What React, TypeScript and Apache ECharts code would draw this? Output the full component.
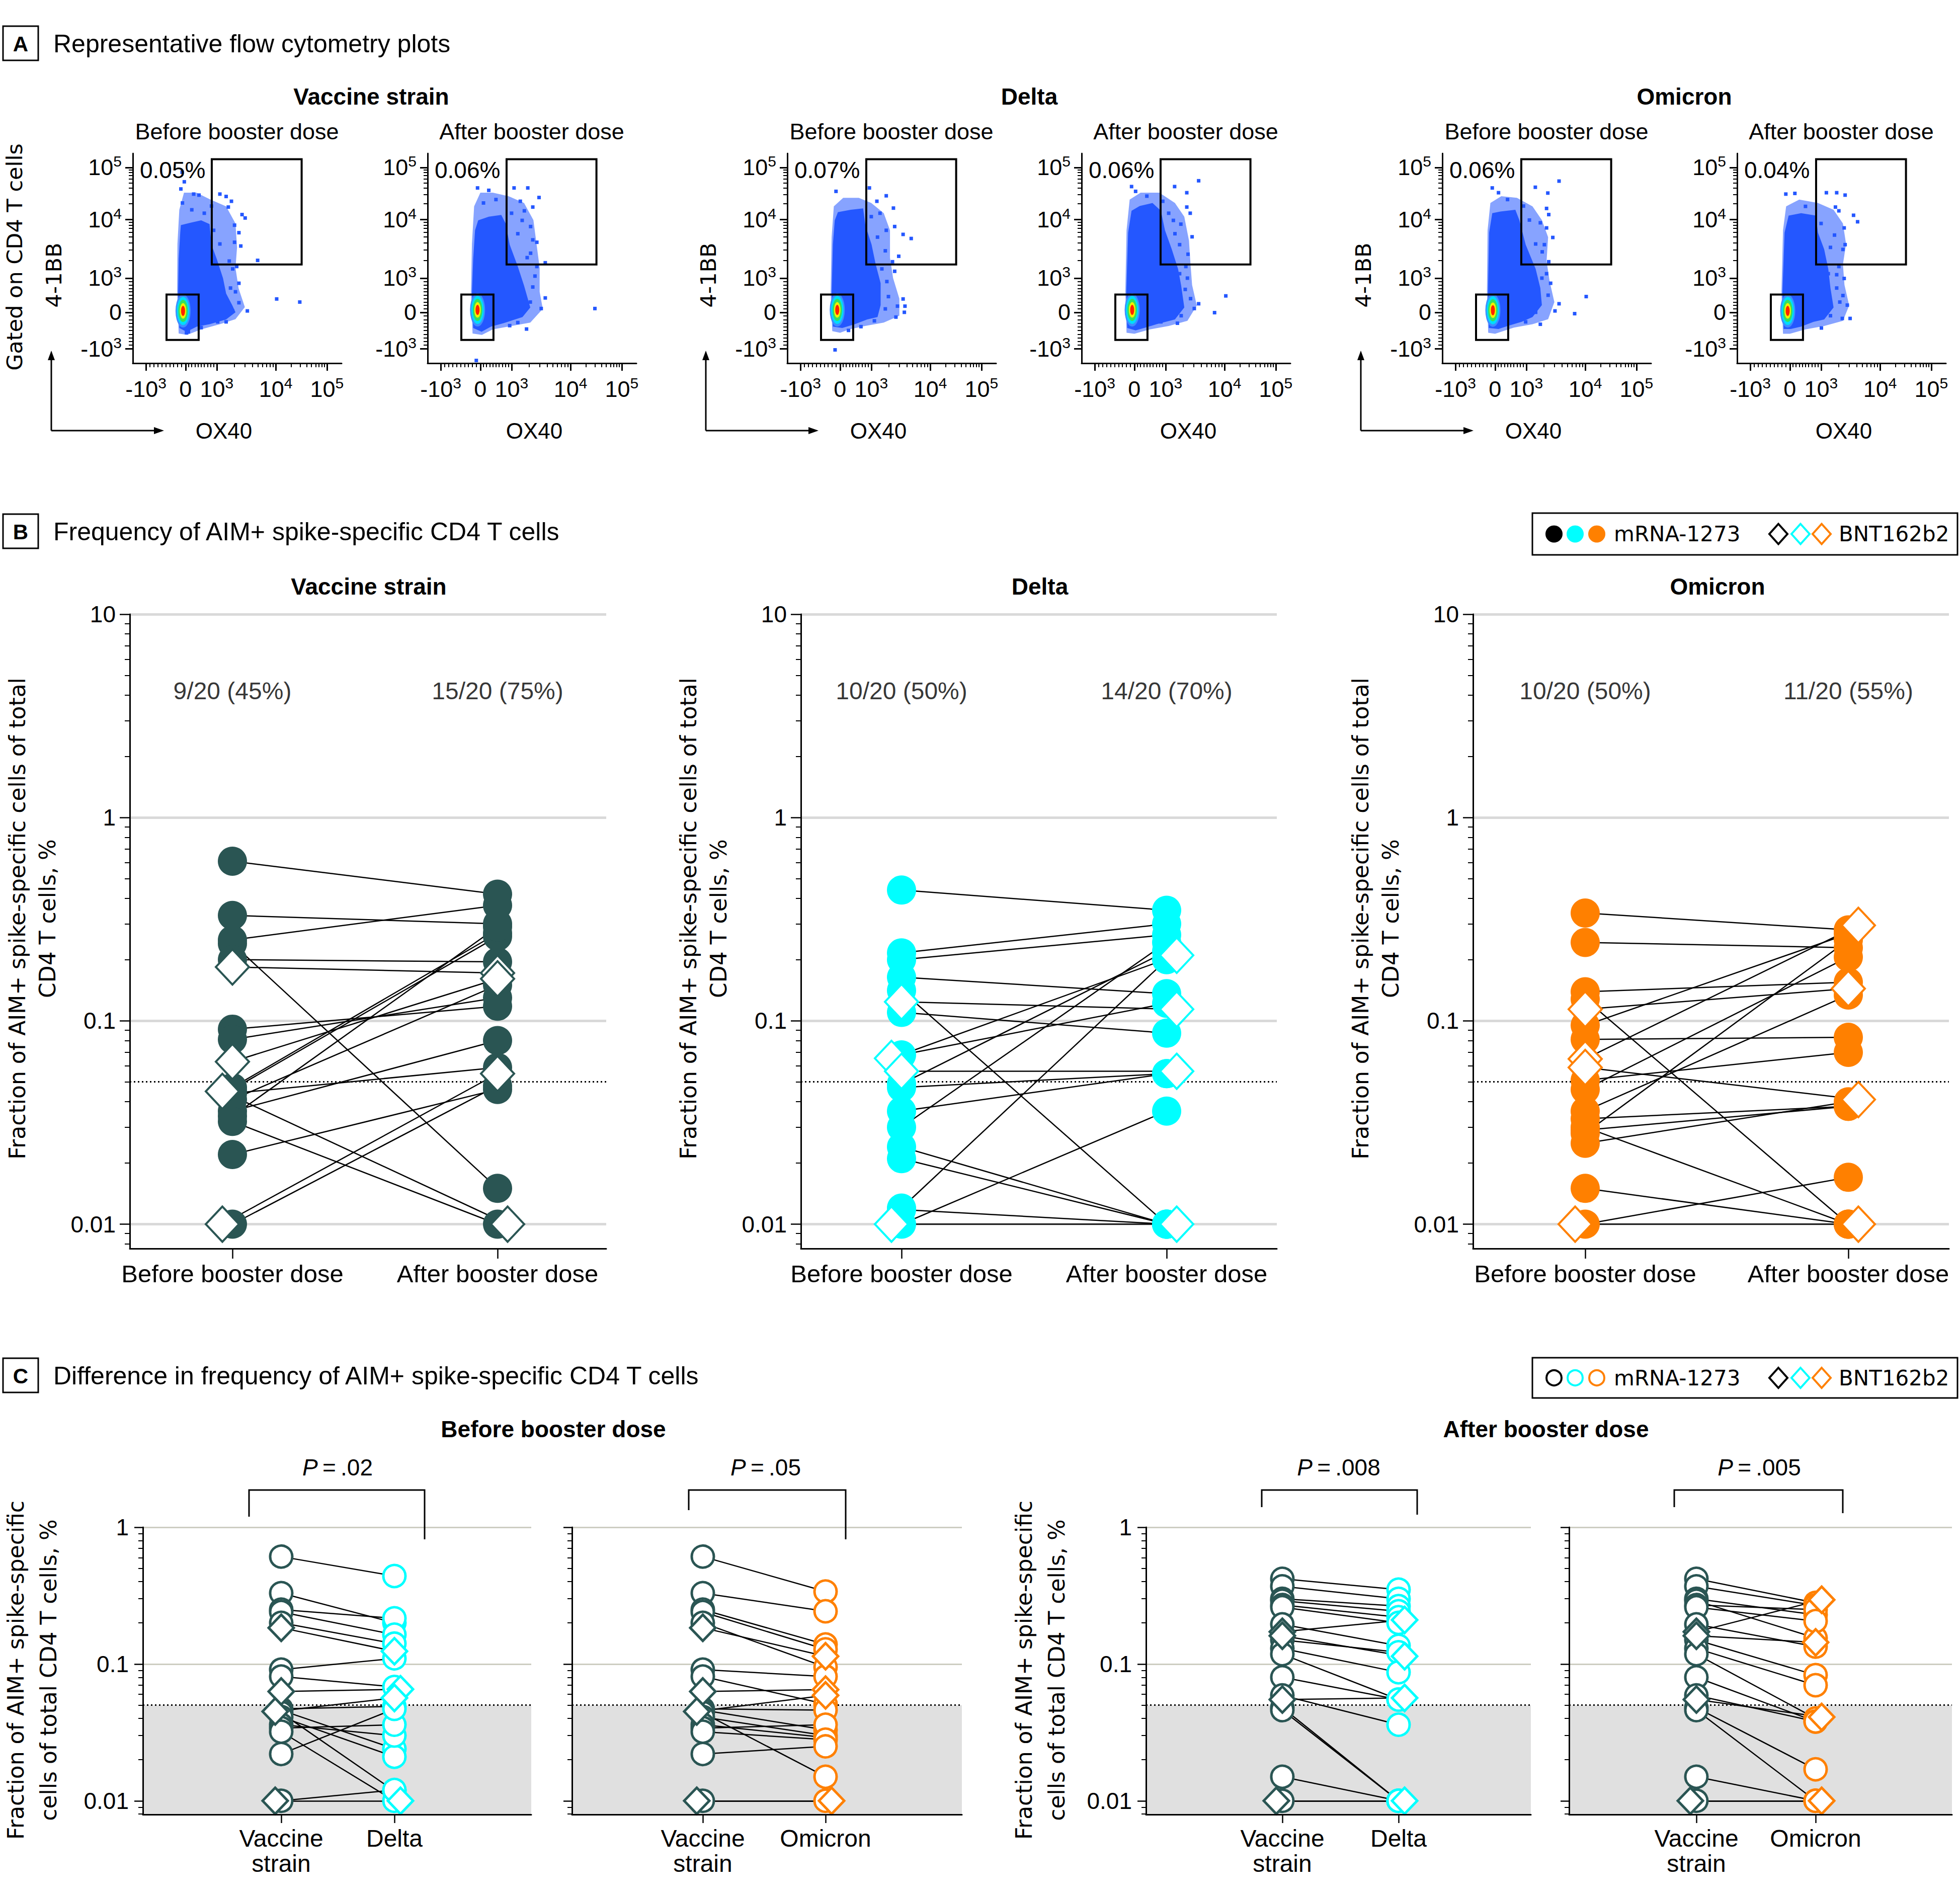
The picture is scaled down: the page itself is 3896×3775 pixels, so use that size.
import React, { useEffect, useRef } from "react";
import * as echarts from "echarts";

const W = 3896;
const H = 3775;
const FONT = "'Liberation Sans', Arial, Helvetica, sans-serif";
const FONT_WIDE = "'DejaVu Sans', Verdana, sans-serif";
const TEAL = "#2a5553";
const CYAN = "#00ffff";
const ORANGE = "#ff8000";
const FLOW_BLUE = "#2457ff";
const FLOW_HALO = "rgba(36,87,255,0.55)";

// ================= Panel A: flow cytometry (channel units of the biexponential display, 10^3 = 1) =================
const FLOW_TICK_VALUES = [-1000, 0, 1000, 10000, 100000];
const FLOW_X_ANCHORS = [-1.27, 0, 1, 2.89, 4.53];
const FLOW_Y_ANCHORS = [-1.07, 0, 1, 2.72, 4.24];
const FLOW_X_RANGE = [-1.69, 5.0];
const FLOW_Y_RANGE = [-1.49, 4.65];
const FLOW_STRAINS = ["Vaccine strain", "Delta", "Omicron"];
const FLOW_TIMES = ["Before booster dose", "After booster dose"];
const FLOW_PERCENT = ["0.05%", "0.06%", "0.07%", "0.06%", "0.06%", "0.04%"];
const GATE_AIM = [[0.84, 1.4], [3.72, 4.48]];
const GATE_NEG = [[-0.61, -0.81], [0.42, 0.52]];
const FLOW_CORES = [[-0.08, 0.04], [-0.09, 0.07], [-0.09, 0.07], [-0.07, 0.07], [-0.07, 0.06], [-0.07, 0.04]];

// dense population outline
const A1_CLOUD = [[-0.2, -0.46], [-0.24, 0.57], [-0.22, 1.56], [-0.17, 2.33], [-0.15, 2.55], [0.16, 2.62], [0.5, 2.69], [0.77, 2.58], [0.83, 1.98], [1.0, 1.56], [1.2, 1.0], [1.3, 0.55], [1.5, 0.2], [1.6, 0.0], [1.3, -0.21], [0.77, -0.35], [0.36, -0.42], [0.03, -0.57]];
const A2_CLOUD = [[-0.23, -0.46], [-0.27, 0.57], [-0.23, 1.56], [-0.17, 2.4], [-0.07, 2.69], [0.27, 2.8], [0.67, 2.85], [0.81, 2.6], [0.94, 1.98], [1.2, 1.34], [1.4, 0.78], [1.6, 0.14], [1.35, -0.14], [0.74, -0.32], [0.34, -0.42], [0.04, -0.57]];
const A3_CLOUD = [[-0.23, -0.42], [-0.27, 0.57], [-0.23, 1.98], [-0.17, 2.69], [-0.07, 2.93], [0.34, 3.0], [0.74, 3.04], [0.81, 2.55], [1.01, 1.98], [1.14, 1.41], [1.3, 0.85], [1.3, 0.21], [1.2, -0.14], [0.87, -0.21], [0.47, -0.35], [0.07, -0.46]];
const A4_CLOUD = [[-0.23, -0.46], [-0.26, 0.57], [-0.2, 2.33], [-0.09, 2.97], [0.17, 3.11], [0.58, 3.2], [0.85, 2.97], [0.98, 2.4], [1.2, 1.84], [1.4, 1.27], [1.5, 0.78], [1.6, 0.14], [1.3, -0.21], [0.71, -0.35], [0.31, -0.46], [0.04, -0.53]];
const A5_CLOUD = [[-0.2, -0.46], [-0.23, 0.57], [-0.19, 2.33], [-0.09, 2.9], [0.17, 2.95], [0.65, 3.0], [0.78, 2.69], [0.98, 1.98], [1.3, 1.27], [1.45, 0.71], [1.5, 0.21], [1.2, -0.14], [0.85, -0.28], [0.44, -0.39], [0.11, -0.49]];
const A6_CLOUD = [[-0.2, -0.49], [-0.24, 0.57], [-0.17, 2.33], [-0.04, 2.83], [0.36, 2.9], [0.83, 2.83], [0.9, 2.33], [1.1, 1.84], [1.23, 1.27], [1.3, 0.71], [1.4, 0.14], [1.1, -0.21], [0.76, -0.28], [0.36, -0.42], [0.03, -0.49]];
// sparse (speckled) population outline
const A1_HALO = [[-0.22, -0.62], [-0.27, 0.6], [-0.26, 2.0], [-0.2, 3.0], [-0.05, 3.5], [0.35, 3.5], [0.8, 3.3], [1.3, 3.1], [1.6, 2.6], [1.65, 1.9], [1.6, 1.3], [1.7, 0.7], [1.9, 0.15], [1.6, -0.2], [1.1, -0.35], [0.5, -0.5], [0.05, -0.66]];
const A2_HALO = [[-0.25, -0.62], [-0.3, 0.6], [-0.27, 2.0], [-0.2, 3.1], [0.0, 3.5], [0.4, 3.5], [0.9, 3.4], [1.4, 3.2], [1.7, 2.7], [1.8, 2.0], [1.9, 1.3], [1.9, 0.6], [2.0, 0.1], [1.6, -0.3], [1.0, -0.4], [0.4, -0.5], [0.05, -0.66]];
const A3_HALO = [[-0.25, -0.55], [-0.3, 0.6], [-0.27, 2.2], [-0.2, 3.1], [0.1, 3.35], [0.6, 3.35], [1.0, 3.2], [1.4, 2.9], [1.6, 2.4], [1.6, 1.6], [1.7, 1.0], [1.9, 0.4], [1.9, -0.1], [1.4, -0.3], [0.8, -0.4], [0.3, -0.5], [0.0, -0.6]];
const A4_HALO = [[-0.25, -0.6], [-0.29, 0.6], [-0.25, 2.4], [-0.15, 3.3], [0.2, 3.5], [0.8, 3.5], [1.3, 3.2], [1.6, 2.8], [1.75, 2.1], [1.8, 1.4], [1.85, 0.8], [2.0, 0.2], [1.7, -0.25], [1.1, -0.4], [0.5, -0.5], [0.0, -0.63]];
const A5_HALO = [[-0.22, -0.6], [-0.26, 0.6], [-0.24, 2.4], [-0.15, 3.2], [0.2, 3.4], [0.7, 3.35], [1.2, 3.1], [1.5, 2.7], [1.7, 2.2], [1.65, 1.5], [1.75, 0.9], [1.9, 0.3], [1.7, -0.2], [1.2, -0.35], [0.6, -0.45], [0.0, -0.63]];
const A6_HALO = [[-0.22, -0.63], [-0.27, 0.6], [-0.22, 2.4], [-0.12, 3.1], [0.3, 3.3], [0.9, 3.2], [1.4, 3.0], [1.7, 2.6], [1.8, 2.0], [1.7, 1.4], [1.75, 0.8], [1.9, 0.2], [1.7, -0.25], [1.1, -0.4], [0.5, -0.5], [0.0, -0.63]];
// individual events outside the dense population
const A1_EVENTS = [[-0.11, 4.1], [-0.04, 3.82], [-0.15, 3.61], [0.26, 3.46], [0.43, 3.43], [1.1, 3.46], [1.3, 3.39], [1.47, 3.25], [1.91, 2.76], [1.81, 2.86], [1.37, 3.08], [0.83, 3.11], [1.57, 2.55], [1.71, 2.33], [1.57, 2.05], [1.77, 1.94], [2.31, 1.52], [1.64, 1.34], [1.51, 1.27], [1.71, 0.85], [1.44, 0.71], [1.71, 0.28], [1.98, 0.04], [1.51, 0.04], [2.92, 0.39], [3.66, 0.3], [1.03, -0.28], [1.3, -0.28], [0.09, -0.57], [0.03, -0.6], [0.6, 2.9], [0.2, 3.0], [0.9, 2.4], [1.1, 2.0], [1.4, 1.5], [1.2, 0.4], [1.6, 0.6], [1.0, -0.2], [0.5, -0.45], [-0.1, 3.2]];
const A2_EVENTS = [[-0.09, 3.64], [0.27, 3.57], [1.08, 3.64], [1.52, 3.64], [1.88, 3.36], [1.28, 3.25], [1.41, 2.97], [1.68, 3.08], [1.34, 2.69], [1.61, 2.51], [1.68, 2.12], [1.81, 2.05], [1.61, 1.73], [2.08, 1.45], [1.81, 1.34], [1.75, 1.06], [1.68, 0.74], [2.08, 0.42], [1.95, 0.11], [1.48, -0.49], [0.94, -0.39], [3.67, 0.11], [-0.13, -1.41], [0.1, 3.2], [0.5, 3.3], [1.0, 2.9], [1.2, 2.3], [1.5, 1.6], [1.6, 0.3], [1.2, -0.3]];
const A3_EVENTS = [[-0.13, 3.54], [0.94, 3.64], [1.48, 3.41], [1.18, 3.25], [1.71, 3.05], [1.28, 2.9], [1.75, 2.51], [1.48, 2.4], [2.02, 2.28], [2.28, 2.16], [1.88, 1.64], [1.68, 1.48], [1.34, 1.27], [1.75, 1.2], [1.55, 0.46], [2.02, 0.39], [2.08, 0.18], [1.84, 0.18], [2.06, 0.0], [1.79, -0.14], [0.67, -0.42], [0.27, -0.53], [-0.16, -1.1], [1.0, 2.8], [1.2, 2.2], [1.45, 1.8], [1.5, 0.9], [1.45, 0.1], [1.1, -0.25]];
const A4_EVENTS = [[-0.09, 3.68], [0.04, 3.54], [1.29, 3.68], [2.06, 3.85], [1.68, 3.5], [0.91, 3.25], [1.68, 3.08], [1.79, 2.9], [1.25, 2.69], [1.49, 2.58], [1.85, 2.21], [1.45, 1.98], [1.72, 1.7], [1.65, 1.34], [1.45, 1.13], [1.63, 0.67], [2.06, 0.25], [1.92, 0.11], [2.93, 0.48], [2.57, -0.01], [1.38, -0.32], [0.85, -0.28], [0.4, 3.4], [1.1, 2.9], [1.3, 2.3], [1.7, 1.0], [1.8, 0.4], [1.5, -0.1]];
const A5_EVENTS = [[-0.09, 3.64], [0.11, 3.5], [0.91, 3.11], [1.29, 3.66], [1.69, 3.49], [2.05, 3.84], [1.65, 3.04], [1.72, 2.86], [1.45, 2.62], [1.65, 2.47], [1.85, 2.19], [1.58, 1.98], [1.51, 1.77], [1.72, 1.48], [1.65, 1.13], [1.78, 0.85], [2.05, 0.25], [1.92, 0.04], [2.92, 0.46], [2.55, -0.04], [1.45, -0.35], [0.98, -0.28], [0.4, 3.3], [1.1, 2.7], [1.3, 2.0], [1.5, 1.0], [1.7, 0.5], [1.3, 0.0]];
const A6_EVENTS = [[-0.13, 3.46], [0.16, 3.48], [1.17, 3.5], [1.5, 3.5], [1.77, 3.43], [1.46, 3.08], [1.57, 2.97], [2.04, 2.84], [2.17, 2.65], [1.74, 2.47], [1.43, 2.26], [1.77, 1.98], [1.7, 1.84], [1.57, 1.34], [1.23, 1.13], [1.74, 0.99], [1.5, 0.71], [1.7, 0.49], [1.84, 0.21], [1.93, -0.18], [1.68, -0.18], [1.01, -0.46], [0.5, 3.1], [1.0, 2.6], [1.3, 1.9], [1.5, 1.1], [1.6, 0.3], [1.3, -0.1]];

// ================= Panel B: % AIM+ spike-specific CD4 T cells, before -> after booster =================
// vaccine: M = mRNA-1273, B = BNT162b2
const B_THRESHOLD = 0.05;
const B_Y_TICKS = [0.01, 0.1, 1, 10];
const B_FRACTION_LEVEL = 4.2;
const B_CATEGORIES = ["Before booster dose", "After booster dose"];
const B_VAX_TYPES = ["M", "M", "M", "M", "M", "B", "M", "M", "B", "M", "M", "B", "M", "M", "M", "M", "M", "M", "M", "B"];
const B_VAX_BEFORE = [0.61, 0.33, 0.25, 0.24, 0.2, 0.184, 0.091, 0.081, 0.063, 0.047, 0.046, 0.045, 0.044, 0.041, 0.036, 0.034, 0.032, 0.022, 0.01, 0.01];
const B_VAX_AFTER = [0.42, 0.3, 0.37, 0.015, 0.195, 0.172, 0.118, 0.13, 0.161, 0.27, 0.26, 0.01, 0.059, 0.15, 0.08, 0.29, 0.01, 0.046, 0.048, 0.055];
const B_VAX_FRACTIONS = ["9/20 (45%)", "15/20 (75%)"];
const B_DELTA_TYPES = ["M", "M", "M", "M", "M", "B", "M", "M", "B", "B", "M", "M", "M", "M", "M", "M", "M", "M", "M", "B"];
const B_DELTA_BEFORE = [0.44, 0.216, 0.2, 0.164, 0.141, 0.124, 0.11, 0.068, 0.0654, 0.0565, 0.049, 0.047, 0.036, 0.03, 0.024, 0.021, 0.012, 0.0118, 0.01, 0.01];
const B_DELTA_AFTER = [0.35, 0.3, 0.265, 0.136, 0.01, 0.114, 0.087, 0.122, 0.21, 0.0565, 0.22, 0.055, 0.055, 0.243, 0.01, 0.01, 0.2, 0.01, 0.036, 0.01];
const B_DELTA_FRACTIONS = ["10/20 (50%)", "14/20 (70%)"];
const B_OMI_TYPES = ["M", "M", "M", "M", "B", "M", "M", "B", "B", "M", "M", "M", "M", "M", "M", "M", "M", "M", "M", "B"];
const B_OMI_BEFORE = [0.339, 0.243, 0.139, 0.128, 0.114, 0.095, 0.081, 0.065, 0.059, 0.051, 0.046, 0.036, 0.033, 0.03, 0.029, 0.028, 0.025, 0.015, 0.01, 0.01];
const B_OMI_AFTER = [0.28, 0.229, 0.155, 0.01, 0.144, 0.268, 0.083, 0.295, 0.041, 0.07, 0.206, 0.134, 0.038, 0.01, 0.038, 0.25, 0.04, 0.01, 0.017, 0.01];
const B_OMI_FRACTIONS = ["10/20 (50%)", "11/20 (55%)"];

// ================= Panel C: vaccine strain vs variant =================
const C_Y_TICKS = [0.01, 0.1, 1];
const C_P_VALUES = [".02", ".05", ".008", ".005"];
const C_PRE_TYPES = ["M", "M", "M", "M", "M", "B", "M", "M", "B", "M", "M", "B", "M", "M", "M", "M", "M", "M", "M", "B"];
const C_PRE_VAX = [0.61, 0.33, 0.25, 0.24, 0.2, 0.184, 0.091, 0.081, 0.063, 0.047, 0.046, 0.045, 0.044, 0.041, 0.036, 0.034, 0.032, 0.022, 0.01, 0.01];
const C_PRE_DELTA = [0.44, 0.2, 0.216, 0.164, 0.141, 0.124, 0.11, 0.068, 0.0654, 0.049, 0.024, 0.0565, 0.0118, 0.021, 0.03, 0.036, 0.01, 0.047, 0.012, 0.01];
const C_PRE_OMI = [0.339, 0.243, 0.139, 0.128, 0.095, 0.114, 0.081, 0.051, 0.065, 0.046, 0.033, 0.059, 0.015, 0.03, 0.029, 0.036, 0.028, 0.025, 0.01, 0.01];
const C_POST_TYPES = ["M", "M", "M", "M", "M", "M", "M", "B", "B", "M", "M", "M", "M", "M", "B", "M", "M", "M", "M", "B"];
const C_POST_VAX = [0.42, 0.37, 0.3, 0.29, 0.27, 0.26, 0.195, 0.172, 0.161, 0.15, 0.13, 0.118, 0.08, 0.059, 0.055, 0.048, 0.046, 0.015, 0.01, 0.01];
const C_POST_DELTA = [0.35, 0.3, 0.265, 0.243, 0.22, 0.2, 0.136, 0.21, 0.114, 0.122, 0.087, 0.055, 0.055, 0.036, 0.0565, 0.01, 0.01, 0.01, 0.01, 0.01];
const C_POST_OMI = [0.28, 0.268, 0.229, 0.155, 0.25, 0.206, 0.134, 0.295, 0.144, 0.083, 0.07, 0.04, 0.038, 0.038, 0.041, 0.017, 0.01, 0.01, 0.01, 0.01];

// ----------------- helpers -----------------
function toChannel(v: number, a: number[]) {
  if (v <= 0) return (v / 1000) * -a[0];
  if (v <= 1000) return v / 1000;
  const l = Math.log10(v);
  if (l <= 4) return 1 + (l - 3) * (a[3] - 1);
  return a[3] + (l - 4) * (a[4] - a[3]);
}
function flowMinorValues() {
  const out: number[] = [];
  for (let k = 1; k <= 9; k++) { out.push(-k * 100); out.push(k * 100); }
  [1000, 10000, 100000].forEach((d) => { for (let k = 2; k <= 9; k++) out.push(k * d); });
  return out;
}
function nearestIdx(arr: number[], v: number) {
  let k = 0;
  arr.forEach((m, i) => { if (Math.abs(m - v) < Math.abs(arr[k] - v)) k = i; });
  return k;
}
function supLabel(v: number) {
  if (v === 0) return "{n|0}";
  const e = Math.round(Math.log10(Math.abs(v)));
  return `{n|${v < 0 ? "-" : ""}10}{s|${e}}`;
}
function logMinors(lo: number, hi: number) {
  const out: number[] = [];
  for (let n = -3; n <= 1; n++) for (let k = 2; k <= 9; k++) {
    const l = Math.log10(k * Math.pow(10, n));
    if (l > lo && l < hi) out.push(l);
  }
  return out;
}

const FLOW_RICH = {
  n: { fontSize: 45, lineHeight: 54, fontFamily: FONT, color: "#000" },
  s: { fontSize: 30, lineHeight: 30, verticalAlign: "top", fontFamily: FONT, color: "#000" },
};
const CORE_RINGS = [
  { size: [30, 66], color: "#3f8cff" },
  { size: [25, 56], color: "#00dcff" },
  { size: [19, 44], color: "#36e05c" },
  { size: [13, 31], color: "#f0f000" },
  { size: [8, 20], color: "#ff2200" },
];

function buildOption(): any {
  const grid: any[] = [];
  const xAxis: any[] = [];
  const yAxis: any[] = [];
  const series: any[] = [];
  const graphic: any[] = [];
  const AXLINE = { color: "#000", width: 3 };

  const addGrid = (left: number, top: number, width: number, height: number) => {
    grid.push({ left, top, width, height });
    return grid.length - 1;
  };
  const addAxis = (list: any[], cfg: any) => {
    list.push({ z: 10, splitLine: { show: false }, ...cfg });
    return list.length - 1;
  };
  const text = (t: string, x: number, y: number, o: any = {}) => {
    const style: any = {
      text: t, fill: "#000",
      fontSize: o.size || 46, fontFamily: o.family || FONT,
      fontWeight: o.weight || "normal", fontStyle: o.fontStyle || "normal",
      align: o.align || "center", verticalAlign: o.va || "middle",
    };
    if (o.lineHeight) style.lineHeight = o.lineHeight;
    if (o.rich) style.rich = o.rich;
    graphic.push({ type: "text", x, y, rotation: o.rotation || 0, silent: true, z: 50, style });
  };
  const line = (x1: number, y1: number, x2: number, y2: number, w = 3) =>
    graphic.push({ type: "line", silent: true, z: 50, shape: { x1, y1, x2, y2 }, style: { stroke: "#000", lineWidth: w } });
  const poly = (points: number[][], fill: string, stroke?: string, lw?: number) =>
    graphic.push({ type: "polygon", silent: true, z: 50, shape: { points }, style: { fill, stroke: stroke || null, lineWidth: lw || 0 } });

  // ---------- panel headers ----------
  const header = (letter: string, y: number, title: string) => {
    graphic.push({ type: "rect", silent: true, z: 50, shape: { x: 6, y, width: 70, height: 68 }, style: { fill: "#fff", stroke: "#000", lineWidth: 3 } });
    text(letter, 41, y + 35, { size: 42, weight: "bold" });
    text(title, 106, y + 35, { size: 50, align: "left" });
  };
  header("A", 52, "Representative flow cytometry plots");
  header("B", 1022, "Frequency of AIM+ spike-specific CD4 T cells");
  header("C", 2700, "Difference in frequency of AIM+ spike-specific CD4 T cells");

  // ---------- Panel A ----------
  const FLOW_LEFTS = [264, 850, 1565, 2150, 2867, 3453];
  const FLOW_TITLE_X = [738, 2046, 3348];
  const FLOW_TOP = 305, FLOW_W = 415, FLOW_H = 417;
  const clouds = [A1_CLOUD, A2_CLOUD, A3_CLOUD, A4_CLOUD, A5_CLOUD, A6_CLOUD];
  const halos = [A1_HALO, A2_HALO, A3_HALO, A4_HALO, A5_HALO, A6_HALO];
  const events = [A1_EVENTS, A2_EVENTS, A3_EVENTS, A4_EVENTS, A5_EVENTS, A6_EVENTS];
  const xMajor = FLOW_TICK_VALUES.map((v) => toChannel(v, FLOW_X_ANCHORS));
  const yMajor = FLOW_TICK_VALUES.map((v) => toChannel(v, FLOW_Y_ANCHORS));
  const minors = flowMinorValues();
  const xMinor = minors.map((v) => toChannel(v, FLOW_X_ANCHORS)).filter((u) => u > FLOW_X_RANGE[0] && u < FLOW_X_RANGE[1]);
  const yMinor = minors.map((v) => toChannel(v, FLOW_Y_ANCHORS)).filter((u) => u > FLOW_Y_RANGE[0] && u < FLOW_Y_RANGE[1]);

  FLOW_STRAINS.forEach((s, k) => text(s, FLOW_TITLE_X[k], 192, { size: 46, weight: "bold" }));
  text("Gated on CD4 T cells", 29, 511, { size: 43, family: FONT_WIDE, rotation: Math.PI / 2 });

  FLOW_LEFTS.forEach((left, i) => {
    const g = addGrid(left, FLOW_TOP, FLOW_W, FLOW_H);
    const xi = addAxis(xAxis, {
      type: "value", gridIndex: g, min: FLOW_X_RANGE[0], max: FLOW_X_RANGE[1], position: "bottom",
      axisLine: { show: true, onZero: false, lineStyle: AXLINE },
      axisTick: { show: true, length: 15, customValues: xMajor, lineStyle: { color: "#000", width: 3 } },
      axisLabel: { show: true, customValues: xMajor, margin: 24, formatter: (v: number) => supLabel(FLOW_TICK_VALUES[nearestIdx(xMajor, v)]), rich: FLOW_RICH },
    });
    addAxis(xAxis, {
      type: "value", gridIndex: g, min: FLOW_X_RANGE[0], max: FLOW_X_RANGE[1], position: "bottom",
      axisLine: { show: false, onZero: false },
      axisTick: { show: true, length: 8, customValues: xMinor, lineStyle: { color: "#000", width: 2 } },
      axisLabel: { show: false },
    });
    const yi = addAxis(yAxis, {
      type: "value", gridIndex: g, min: FLOW_Y_RANGE[0], max: FLOW_Y_RANGE[1], position: "left",
      axisLine: { show: true, onZero: false, lineStyle: AXLINE },
      axisTick: { show: true, length: 15, customValues: yMajor, lineStyle: { color: "#000", width: 3 } },
      axisLabel: { show: true, customValues: yMajor, margin: 22, formatter: (v: number) => supLabel(FLOW_TICK_VALUES[nearestIdx(yMajor, v)]), rich: FLOW_RICH },
    });
    addAxis(yAxis, {
      type: "value", gridIndex: g, min: FLOW_Y_RANGE[0], max: FLOW_Y_RANGE[1], position: "left",
      axisLine: { show: false, onZero: false },
      axisTick: { show: true, length: 8, customValues: yMinor, lineStyle: { color: "#000", width: 2 } },
      axisLabel: { show: false },
    });
    const cloud = clouds[i];
    const halo = halos[i];
    series.push({
      type: "custom", xAxisIndex: xi, yAxisIndex: yi, silent: true, z: 2, data: [[0, 0]],
      renderItem: (_p: any, api: any) => ({
        type: "group",
        children: [
          { type: "polygon", shape: { points: halo.map((c) => api.coord(c)) }, style: { fill: FLOW_HALO } },
          { type: "polygon", shape: { points: cloud.map((c) => api.coord(c)) }, style: { fill: FLOW_BLUE } },
        ],
      }),
    });
    series.push({
      type: "scatter", xAxisIndex: xi, yAxisIndex: yi, silent: true, z: 3,
      symbol: "rect", symbolSize: 7, itemStyle: { color: FLOW_BLUE, opacity: 1 },
      data: events[i],
      markArea: {
        silent: true, z: 6,
        itemStyle: { color: "rgba(0,0,0,0)", borderColor: "#000", borderWidth: 4 },
        data: [
          [{ coord: GATE_AIM[0] }, { coord: GATE_AIM[1] }],
          [{ coord: GATE_NEG[0] }, { coord: GATE_NEG[1] }],
        ],
      },
    });
    series.push({
      type: "scatter", xAxisIndex: xi, yAxisIndex: yi, silent: true, z: 4, symbol: "circle",
      data: CORE_RINGS.map((r) => ({ value: FLOW_CORES[i], symbolSize: r.size, itemStyle: { color: r.color, opacity: 1 } })),
    });

    const time = i % 2;
    text(FLOW_TIMES[time], left + 207, 261, { size: 45 });
    text(FLOW_PERCENT[i], left + 14, 338, { size: 46, align: "left" });
    text("OX40", left + (time === 0 ? 181 : 212), 856, { size: 44 });
    if (time === 0) {
      const ax = left - 162;
      line(ax, 856, ax, 712);
      poly([[ax - 7, 716], [ax + 7, 716], [ax, 697]], "#000");
      line(ax, 856, left + 45, 856);
      poly([[left + 42, 849], [left + 42, 863], [left + 62, 856]], "#000");
      text("4-1BB", left - 157, 547, { size: 43, family: FONT_WIDE, rotation: Math.PI / 2 });
    }
  });

  // ---------- paired panels (B and C) ----------
  const addPaired = (o: any) => {
    const { left, width, cols } = o.layout;
    const unit = cols[1] - cols[0];
    const g = addGrid(left, o.top, width, o.height);
    const xi = addAxis(xAxis, {
      type: "value", gridIndex: g, min: (left - cols[0]) / unit, max: (left + width - cols[0]) / unit, position: "bottom",
      axisLine: { show: true, onZero: false, lineStyle: AXLINE },
      axisTick: { show: true, customValues: [0, 1], length: o.tickLen, lineStyle: { color: "#000", width: 2.5 } },
      axisLabel: {
        show: true, customValues: [0, 1], formatter: (v: number) => o.catLabels[v < 0.5 ? 0 : 1],
        fontSize: o.catSize, lineHeight: o.catLH, margin: o.catMargin, color: "#000", fontFamily: FONT,
      },
    });
    const majors = o.yTicks.map((t: number) => Math.log10(t));
    const yi = addAxis(yAxis, {
      type: "value", gridIndex: g, min: o.logMin, max: o.logMax, position: "left",
      axisLine: { show: true, onZero: false, lineStyle: AXLINE },
      axisTick: { show: true, customValues: majors, length: o.tickLen, lineStyle: { color: "#000", width: 2.5 } },
      axisLabel: {
        show: o.yLabels, customValues: majors, showMinLabel: true, showMaxLabel: true,
        formatter: (v: number) => String(o.yTicks[nearestIdx(majors, v)]),
        fontSize: 46, margin: 28, color: "#000", fontFamily: FONT,
      },
    });
    addAxis(yAxis, {
      type: "value", gridIndex: g, min: o.logMin, max: o.logMax, position: "left",
      axisLine: { show: false, onZero: false },
      axisTick: { show: true, customValues: logMinors(o.logMin, o.logMax), length: Math.round(o.tickLen / 2), lineStyle: { color: "#000", width: 2 } },
      axisLabel: { show: false },
    });
    const thr = Math.log10(B_THRESHOLD);
    if (o.shade) {
      series.push({
        type: "line", xAxisIndex: xi, yAxisIndex: yi, data: [], silent: true, z: 1,
        markArea: { silent: true, z: 1, itemStyle: { color: "#e0e0e0" }, data: [[{ yAxis: thr }, { yAxis: o.logMin }]] },
      });
    }
    series.push({
      type: "line", xAxisIndex: xi, yAxisIndex: yi, data: [], silent: true, z: 2,
      markLine: {
        silent: true, z: 2, symbol: ["none", "none"], label: { show: false },
        data: [
          ...o.gridTicks.map((t: number) => ({ yAxis: Math.log10(t), lineStyle: { color: o.gridColor, width: o.gridWidth, type: "solid" } })),
          { yAxis: thr, lineStyle: { color: "#000", width: 3, type: [3, 5] } },
        ],
      },
    });
    const dx = o.dodgePx / unit;
    const vals = [o.a, o.b];
    const pt = (col: number, i: number) => {
      const arr = vals[col];
      let x = col;
      if (o.types[i] === "B") {
        const lv = Math.log10(arr[i]);
        const hit = arr.some((v: number, j: number) => o.types[j] === "M" && Math.abs(Math.log10(v) - lv) < 0.03);
        if (hit) x += col === 0 ? -dx : dx;
      }
      return [x, Math.log10(arr[i])];
    };
    series.push({
      type: "lines", coordinateSystem: "cartesian2d", xAxisIndex: xi, yAxisIndex: yi, silent: true, z: 3,
      lineStyle: { color: "#000", width: o.lineWidth, opacity: 1, curveness: 0 },
      data: o.a.map((_: number, i: number) => ({ coords: [pt(0, i), pt(1, i)] })),
    });
    const idx = o.types.map((_: string, i: number) => i);
    [0, 1].forEach((col) => {
      const color = o.colors[col];
      series.push({
        type: "scatter", xAxisIndex: xi, yAxisIndex: yi, silent: true, z: 4, symbol: "circle", symbolSize: o.circleSize,
        itemStyle: o.open ? { color: "#fff", borderColor: color, borderWidth: o.border, opacity: 1 } : { color, opacity: 1 },
        data: idx.filter((i: number) => o.types[i] === "M").map((i: number) => pt(col, i)),
      });
      series.push({
        type: "scatter", xAxisIndex: xi, yAxisIndex: yi, silent: true, z: 5, symbol: "diamond", symbolSize: o.diamondSize,
        itemStyle: { color: "#fff", borderColor: color, borderWidth: o.border, opacity: 1 },
        data: idx.filter((i: number) => o.types[i] === "B").map((i: number) => pt(col, i)),
      });
    });
    if (o.fractions) {
      series.push({
        type: "scatter", xAxisIndex: xi, yAxisIndex: yi, silent: true, z: 6, symbolSize: 1,
        itemStyle: { color: "rgba(0,0,0,0)" },
        label: { show: true, position: "inside", formatter: "{b}", fontSize: 48, color: "#000", fontFamily: FONT },
        data: o.fractions.map((f: string, c: number) => ({ name: f, value: [c, Math.log10(B_FRACTION_LEVEL)] })),
      });
    }
  };

  // ---------- Panel B ----------
  const B_LAYOUT = [
    { left: 258, width: 947, cols: [462, 989], titleX: 733 },
    { left: 1592, width: 946, cols: [1792, 2319], titleX: 2067 },
    { left: 2928, width: 946, cols: [3151, 3674], titleX: 3414 },
  ];
  const bSets = [
    { a: B_VAX_BEFORE, b: B_VAX_AFTER, types: B_VAX_TYPES, color: TEAL, title: "Vaccine strain", fr: B_VAX_FRACTIONS },
    { a: B_DELTA_BEFORE, b: B_DELTA_AFTER, types: B_DELTA_TYPES, color: CYAN, title: "Delta", fr: B_DELTA_FRACTIONS },
    { a: B_OMI_BEFORE, b: B_OMI_AFTER, types: B_OMI_TYPES, color: ORANGE, title: "Omicron", fr: B_OMI_FRACTIONS },
  ];
  bSets.forEach((s, k) => {
    const L = B_LAYOUT[k];
    addPaired({
      layout: L, top: 1221, height: 1261, logMin: -2.12, logMax: 1,
      a: s.a, b: s.b, types: s.types, colors: [s.color, s.color], open: false,
      circleSize: 58, diamondSize: [66, 70], border: 4, lineWidth: 2.5, dodgePx: 20,
      yTicks: B_Y_TICKS, yLabels: true, tickLen: 20, gridTicks: B_Y_TICKS, gridColor: "#d9d9d9", gridWidth: 5,
      catLabels: B_CATEGORIES, catSize: 49, catLH: 56, catMargin: 22, shade: false, fractions: s.fr,
    });
    text(s.title, L.titleX, 1166, { size: 46, weight: "bold" });
    text("Fraction of AIM+ spike-specific cells of total\nCD4 T cells, %", L.left - 194, 1826, { size: 44, family: FONT_WIDE, rotation: Math.PI / 2, lineHeight: 60 });
  });

  // ---------- legends ----------
  const legend = (y0: number, h: number, open: boolean) => {
    graphic.push({ type: "rect", silent: true, z: 50, shape: { x: 3046, y: y0, width: 845, height: h }, style: { fill: "#fff", stroke: "#000", lineWidth: 3 } });
    const cy = y0 + h / 2;
    const cols = ["#000", CYAN, ORANGE];
    [3089, 3131, 3174].forEach((cx, i) => {
      graphic.push({
        type: "circle", silent: true, z: 51, shape: { cx, cy, r: open ? 15 : 17 },
        style: open ? { fill: "#fff", stroke: cols[i], lineWidth: 4 } : { fill: cols[i] },
      });
    });
    text("mRNA-1273", 3208, cy, { size: 42, family: FONT_WIDE, align: "left" });
    [3535, 3579, 3621].forEach((cx, i) => {
      poly([[cx, cy - 20], [cx + 18, cy], [cx, cy + 20], [cx - 18, cy]], "#fff", cols[i], 4);
    });
    text("BNT162b2", 3655, cy, { size: 42, family: FONT_WIDE, align: "left" });
  };
  legend(1020, 83, false);
  legend(2699, 80, true);

  // ---------- Panel C ----------
  const C_LAYOUT = [
    { left: 284, width: 772, cols: [559, 784] },
    { left: 1137, width: 775, cols: [1397, 1641] },
    { left: 2278, width: 765, cols: [2549, 2780] },
    { left: 3119, width: 761, cols: [3372, 3609] },
  ];
  const cSets = [
    { a: C_PRE_VAX, b: C_PRE_DELTA, types: C_PRE_TYPES, color: CYAN, name: "Delta", labels: true },
    { a: C_PRE_VAX, b: C_PRE_OMI, types: C_PRE_TYPES, color: ORANGE, name: "Omicron", labels: false },
    { a: C_POST_VAX, b: C_POST_DELTA, types: C_POST_TYPES, color: CYAN, name: "Delta", labels: true },
    { a: C_POST_VAX, b: C_POST_OMI, types: C_POST_TYPES, color: ORANGE, name: "Omicron", labels: false },
  ];
  cSets.forEach((s, k) => {
    addPaired({
      layout: C_LAYOUT[k], top: 3036, height: 571, logMin: -2.1, logMax: 0,
      a: s.a, b: s.b, types: s.types, colors: [TEAL, s.color], open: true,
      circleSize: 44, diamondSize: [50, 52], border: 5, lineWidth: 2.5, dodgePx: 12,
      yTicks: C_Y_TICKS, yLabels: s.labels, tickLen: 17, gridTicks: [0.1, 1], gridColor: "#cdcdc2", gridWidth: 3,
      catLabels: ["Vaccine\nstrain", s.name], catSize: 48, catLH: 50, catMargin: 22, shade: true, fractions: null,
    });
  });
  text("Before booster dose", 1100, 2841, { size: 46, weight: "bold" });
  text("After booster dose", 3073, 2841, { size: 46, weight: "bold" });
  const P_X = [671, 1522, 2661, 3497];
  const PRICH = { i: { fontStyle: "italic", fontSize: 46, fontFamily: FONT, fill: "#000" }, n: { fontSize: 46, fontFamily: FONT, fill: "#000" } };
  C_P_VALUES.forEach((p, k) => text(`{i|P}{n|\u2009=\u2009${p}}`, P_X[k], 2917, { rich: PRICH }));
  const BRACKETS = [
    [[495, 3015], [495, 2962], [844, 2962], [844, 3060]],
    [[1369, 3002], [1369, 2962], [1681, 2962], [1681, 3060]],
    [[2508, 2996], [2508, 2962], [2817, 2962], [2817, 3011]],
    [[3328, 2996], [3328, 2962], [3663, 2962], [3663, 3008]],
  ];
  BRACKETS.forEach((pts) => graphic.push({ type: "polyline", silent: true, z: 50, shape: { points: pts }, style: { stroke: "#000", lineWidth: 3, fill: null } }));
  text("Fraction of AIM+ spike-specific\ncells of total CD4 T cells, %", 64, 3320, { size: 44, family: FONT_WIDE, rotation: Math.PI / 2, lineHeight: 65 });
  text("Fraction of AIM+ spike-specific\ncells of total CD4 T cells, %", 2068, 3320, { size: 44, family: FONT_WIDE, rotation: Math.PI / 2, lineHeight: 65 });

  return {
    animation: false,
    backgroundColor: "#fff",
    textStyle: { fontFamily: FONT },
    grid, xAxis, yAxis, series, graphic,
  };
}

export default function App() {
  const ref = useRef<HTMLDivElement>(null);
  useEffect(() => {
    const chart = echarts.init(ref.current as HTMLDivElement, null, { renderer: "svg", width: W, height: H });
    chart.setOption(buildOption());
    return () => chart.dispose();
  }, []);
  return <div ref={ref} style={{ position: "absolute", left: 0, top: 0, width: W, height: H, background: "#fff" }} />;
}
